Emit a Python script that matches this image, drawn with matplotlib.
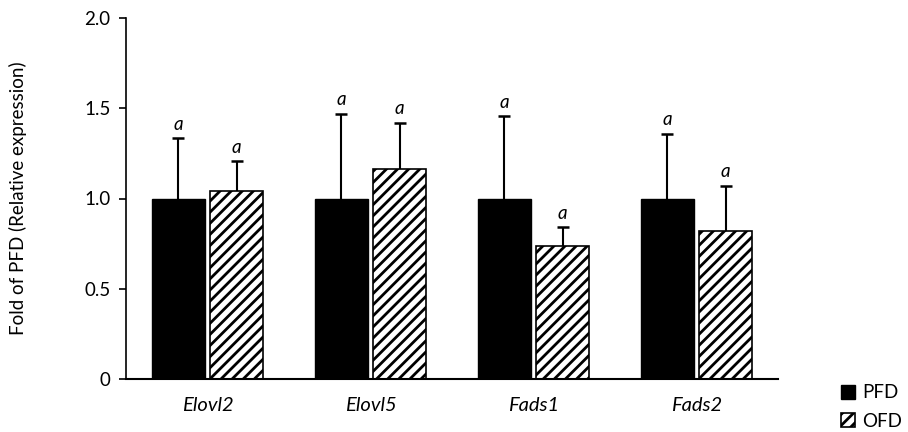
import matplotlib
matplotlib.use("Agg")
import matplotlib.pyplot as plt
import numpy as np

plt.rcParams['font.family'] = ['Lato', 'DejaVu Sans']
plt.rcParams['hatch.linewidth'] = 2.0

genes = ["Elovl2", "Elovl5", "Fads1", "Fads2"]
pfd_mean = [1.0, 1.0, 1.0, 1.0]
pfd_err = [0.335, 0.47, 0.455, 0.36]
ofd_mean = [1.04, 1.165, 0.735, 0.82]
ofd_err = [0.165, 0.255, 0.105, 0.25]
sig_pfd = ["a", "a", "a", "a"]
sig_ofd = ["a", "a", "a", "a"]
yticks = [0, 0.5, 1.0, 1.5, 2.0]
yticklabels = ["0", "0.5", "1.0", "1.5", "2.0"]

fig = plt.figure(figsize=(9.08, 4.32), dpi=100)
ax = fig.add_axes([126/908, 1-379/432, (778-126)/908, (379-18)/432])

x = np.arange(len(genes))
w = 0.325
off = 0.178

ax.bar(x - off, pfd_mean, w, color='black', edgecolor='black', linewidth=1, label='PFD', zorder=2)
ax.bar(x + off, ofd_mean, w, color='white', edgecolor='black', linewidth=1.2, hatch='///', label='OFD', zorder=2)

for xs, m, e in [(x - off, pfd_mean, pfd_err), (x + off, ofd_mean, ofd_err)]:
    m = np.array(m); e = np.array(e)
    ax.vlines(xs, m, m + e, color='black', linewidth=1.5, zorder=3)
    ax.plot(xs, m + e, ls='none', marker='_', markersize=9, mew=1.8, color='black', zorder=3)

for i in range(len(genes)):
    ax.text(x[i] - off, pfd_mean[i] + pfd_err[i] + 0.03, sig_pfd[i], ha='center', va='bottom',
            fontsize=13.5, style='italic')
    ax.text(x[i] + off, ofd_mean[i] + ofd_err[i] + 0.03, sig_ofd[i], ha='center', va='bottom',
            fontsize=13.5, style='italic')

ax.set_xlim(-0.5, 3.5)
ax.set_ylim(0, 2.0)
ax.set_yticks(yticks)
ax.set_yticklabels(yticklabels, fontsize=13.5)
ax.set_xticks(x)
ax.set_xticklabels(genes, fontsize=14.5, style='italic')
ax.tick_params(axis='x', length=0, pad=13)
ax.tick_params(axis='y', length=5, width=1.2, pad=6, direction='out')
for s in ['top', 'right']:
    ax.spines[s].set_visible(False)
ax.spines['left'].set_linewidth(1.2)
ax.spines['bottom'].set_linewidth(1.5)
ax.set_ylabel("Fold of PFD (Relative expression)", fontsize=13.5, labelpad=41)

leg = fig.legend(loc='upper left', bbox_to_anchor=(832/908, 1-375/432), frameon=False,
                 fontsize=13.5, handlelength=0.75, handleheight=0.75, handletextpad=0.35,
                 labelspacing=0.6, borderpad=0)

fig.savefig("out.png", dpi=100)
